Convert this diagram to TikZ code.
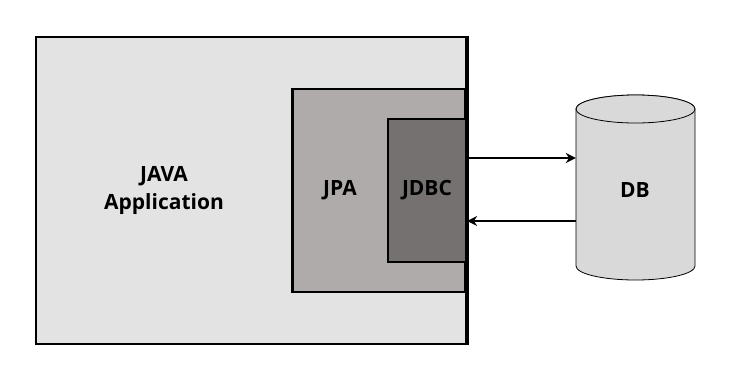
\documentclass[tikz,border=0pt]{standalone}
\usepackage{fontspec}
\setmainfont{Open Sans}
\usetikzlibrary{arrows.meta,calc}
\definecolor{appgray}{HTML}{E3E3E3}
\definecolor{jpagray}{HTML}{AFABAB}
\definecolor{jdbcgray}{HTML}{767171}
\definecolor{dbgray}{HTML}{D9D9D9}
\tikzset{
  box/.style={draw=black, line width=2.2pt, inner sep=0pt},
  lbl/.style={font=\fontsize{21}{28}\selectfont\bfseries, align=center, text=black},
  conn/.style={line width=2.6pt, -{Stealth[length=10pt,width=10pt]}},
}
\begin{document}
\begin{tikzpicture}[x=1pt,y=-1pt]
\useasboundingbox (0,0) rectangle (748,376);
\node[box, fill=appgray, line width=2.5pt, minimum width=430, minimum height=307] (app) at (251,190.5) {};
\node[box, fill=jpagray, minimum width=173, minimum height=203] (jpa) at (379,190.5) {};
\node[box, fill=jdbcgray, minimum width=78, minimum height=143] (jdbc) at (427,190.5) {};
\draw[line width=2.5pt] (app.north east) -- (app.south east);
\node[lbl] (apptext) at (164,190) {JAVA\\Application};
\node[lbl] (jpatext) at (340,190) {JPA};
\node[lbl] (jdbctext) at (427,190) {JDBC};
% database cylinder
\node[minimum width=119, minimum height=186, inner sep=0pt] (db) at (635.5,187.5) {};
\draw[fill=dbgray, line width=0.8pt]
  (576,109) -- (576,266) arc[start angle=180, end angle=0, x radius=59.5, y radius=14]
  -- (695,109) arc[start angle=0, end angle=-180, x radius=59.5, y radius=14] -- cycle;
\draw[fill=dbgray, line width=0.8pt] (635.5,109) ellipse[x radius=59.5, y radius=14];
\node[lbl] (dbtext) at (635,190) {DB};
\draw[conn] ([yshift=32.5pt]jdbc.east) -- ([yshift=29.5pt]db.west);
\draw[conn] ([yshift=-33.5pt]db.west) -- ([yshift=-30.5pt]jdbc.east);
\end{tikzpicture}
\end{document}
